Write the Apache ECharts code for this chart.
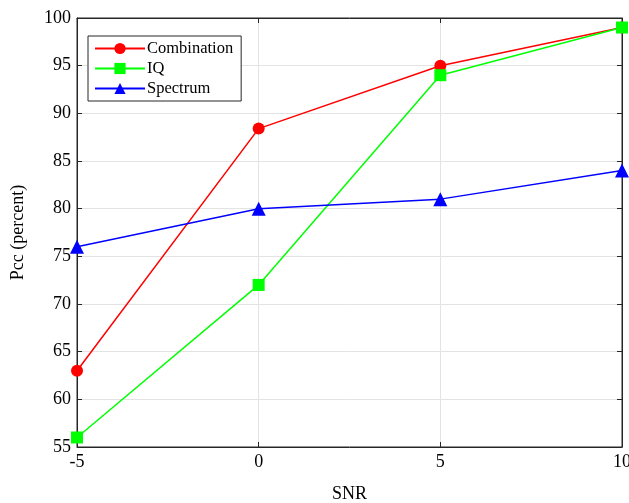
<!DOCTYPE html>
<html>
<head>
<meta charset="utf-8">
<title>Pcc vs SNR</title>
<script src="https://cdn.jsdelivr.net/npm/echarts@6/dist/echarts.min.js"></script>
<style>
  html, body { margin: 0; padding: 0; background: #fff; }
  #chart { width: 629px; height: 503px; }
</style>
</head>
<body>
<div id="chart"></div>
<script>
var snr = [-5, 0, 5, 10];
var combination = [63, 88.4, 95, 99];
var iq = [56, 72, 94, 99];
var spectrum = [76, 80, 81, 84];

function pairs(xs, ys) {
  return xs.map(function (x, i) { return [x, ys[i]]; });
}

var font = 'Liberation Serif';
var frame = '#262626';
var chart = echarts.init(document.getElementById('chart'));

var option = {
  backgroundColor: '#fff',
  animation: false,
  textStyle: { fontFamily: font },
  grid: {
    left: 77, right: 7, top: 18, bottom: 56,
    outerBoundsMode: 'none',
    show: true, borderColor: frame, borderWidth: 1
  },
  legend: {
    orient: 'vertical',
    left: 88, top: 36,
    padding: [4, 8, 4, 6],
    itemGap: 3,
    itemWidth: 50, itemHeight: 14,
    backgroundColor: '#fff',
    borderColor: frame, borderWidth: 1, borderRadius: 0,
    textStyle: { fontFamily: font, fontSize: 16.5, color: '#000', padding: [0, 0, 0, -3] },
    data: ['Combination', 'IQ', 'Spectrum']
  },
  xAxis: [{
    type: 'value', min: -5, max: 10, interval: 5,
    name: 'SNR', nameLocation: 'middle', nameGap: 38,
    nameTextStyle: { fontFamily: font, fontSize: 18, color: '#000' },
    axisLine: { onZero: false, lineStyle: { color: frame } },
    axisTick: { inside: true, length: 5, lineStyle: { color: frame } },
    axisLabel: { fontFamily: font, fontSize: 18, color: '#000', margin: 6 },
    splitLine: { show: true, lineStyle: { color: '#e3e3e3' } }
  }, {
    type: 'value', position: 'top', min: -5, max: 10, interval: 5,
    axisLine: { onZero: false, lineStyle: { color: frame } },
    axisTick: { inside: true, length: 5, lineStyle: { color: frame } },
    axisLabel: { show: false }, splitLine: { show: false }
  }],
  yAxis: [{
    type: 'value', min: 55, max: 100, interval: 5,
    name: 'Pcc (percent)', nameLocation: 'middle', nameGap: 50,
    nameTextStyle: { fontFamily: font, fontSize: 18, color: '#000' },
    axisLine: { show: true, onZero: false, lineStyle: { color: frame } },
    axisTick: { show: true, inside: true, length: 5, lineStyle: { color: frame } },
    axisLabel: { fontFamily: font, fontSize: 18, color: '#000', margin: 6 },
    splitLine: { show: true, lineStyle: { color: '#e3e3e3' } }
  }, {
    type: 'value', position: 'right', min: 55, max: 100, interval: 5,
    axisLine: { show: true, onZero: false, lineStyle: { color: frame } },
    axisTick: { show: true, inside: true, length: 5, lineStyle: { color: frame } },
    axisLabel: { show: false }, splitLine: { show: false }
  }],
  series: [{
    name: 'Combination', type: 'line',
    data: pairs(snr, combination),
    symbol: 'circle', symbolSize: 12,
    lineStyle: { color: '#ff0000', width: 1.5 },
    itemStyle: { color: '#ff0000' }
  }, {
    name: 'IQ', type: 'line',
    data: pairs(snr, iq),
    symbol: 'rect', symbolSize: 12,
    lineStyle: { color: '#00ff00', width: 1.5 },
    itemStyle: { color: '#00ff00' }
  }, {
    name: 'Spectrum', type: 'line',
    data: pairs(snr, spectrum),
    symbol: 'triangle', symbolSize: 14,
    lineStyle: { color: '#0000ff', width: 1.5 },
    itemStyle: { color: '#0000ff' }
  }]
};

chart.setOption(option);
</script>
</body>
</html>
